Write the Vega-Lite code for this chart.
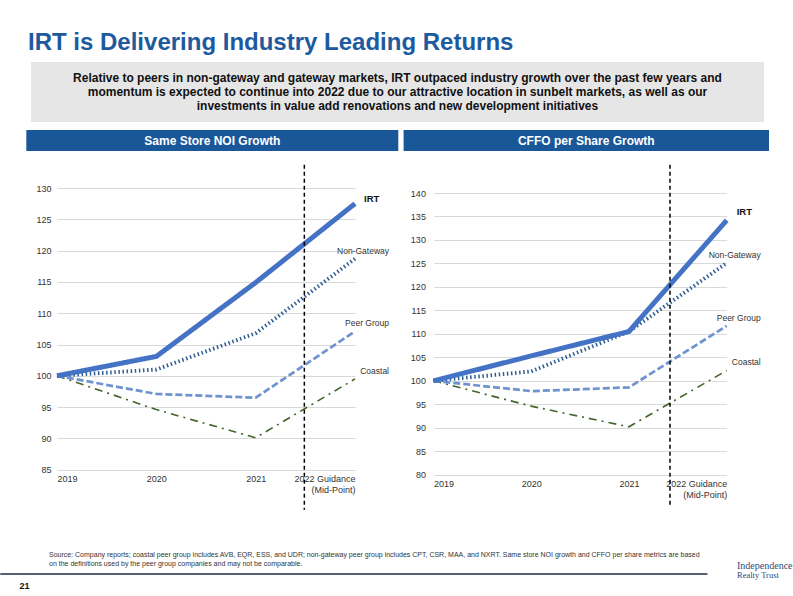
{
  "$schema": "https://vega.github.io/schema/vega-lite/v6.json",
  "padding": {"left": 0, "top": 31, "right": 0, "bottom": 0},
  "background": "white",
  "config": {
    "font": "Liberation Sans",
    "view": {"stroke": null},
    "axis": {"labelFont": "Liberation Sans", "labelFontSize": 9, "labelColor": "#333333", "domain": false, "ticks": false, "title": null, "labelOverlap": false, "labelBound": false},
    "title": {"font": "Liberation Sans"}
  },
  "title": {"text": "IRT is Delivering Industry Leading Returns", "anchor": "start", "frame": "group", "dx": 27, "fontSize": 24, "fontWeight": "bold", "color": "#1D5A9E", "baseline": "alphabetic", "offset": -12},
  "datasets": {
    "noi": [
      {"series": "Coastal", "year": 2019, "value": 100},
      {"series": "Coastal", "year": 2020, "value": 94.6},
      {"series": "Coastal", "year": 2021, "value": 90.1},
      {"series": "Coastal", "year": 2022, "value": 99.5},
      {"series": "Peer Group", "year": 2019, "value": 100},
      {"series": "Peer Group", "year": 2020, "value": 97.1},
      {"series": "Peer Group", "year": 2021, "value": 96.5},
      {"series": "Peer Group", "year": 2022, "value": 107.1},
      {"series": "Non-Gateway", "year": 2019, "value": 100},
      {"series": "Non-Gateway", "year": 2020, "value": 101.0},
      {"series": "Non-Gateway", "year": 2021, "value": 106.8},
      {"series": "Non-Gateway", "year": 2022, "value": 118.7},
      {"series": "IRT", "year": 2019, "value": 100},
      {"series": "IRT", "year": 2020, "value": 103.1},
      {"series": "IRT", "year": 2021, "value": 114.9},
      {"series": "IRT", "year": 2022, "value": 127.5}
    ],
    "cffo": [
      {"series": "Coastal", "year": 2019, "value": 100},
      {"series": "Coastal", "year": 2020, "value": 94.6},
      {"series": "Coastal", "year": 2021, "value": 90.2},
      {"series": "Coastal", "year": 2022, "value": 102.2},
      {"series": "Peer Group", "year": 2019, "value": 100},
      {"series": "Peer Group", "year": 2020, "value": 97.8},
      {"series": "Peer Group", "year": 2021, "value": 98.6},
      {"series": "Peer Group", "year": 2022, "value": 111.7},
      {"series": "Non-Gateway", "year": 2019, "value": 100},
      {"series": "Non-Gateway", "year": 2020, "value": 102.0},
      {"series": "Non-Gateway", "year": 2021, "value": 110.5},
      {"series": "Non-Gateway", "year": 2022, "value": 125.1},
      {"series": "IRT", "year": 2019, "value": 100},
      {"series": "IRT", "year": 2020, "value": 105.3},
      {"series": "IRT", "year": 2021, "value": 110.5},
      {"series": "IRT", "year": 2022, "value": 134.2}
    ],
    "summary": [
      {"t": "Relative to peers in non-gateway and gateway markets, IRT outpaced industry growth over the past few years and\nmomentum is expected to continue into 2022 due to our attractive location in sunbelt markets, as well as our\ninvestments in value add renovations and new development initiatives"}
    ],
    "headers": [
      {"panel": "left", "t": "Same Store NOI Growth"},
      {"panel": "right", "t": "CFFO per Share Growth"}
    ]
  },
  "bounds": "flush",
  "spacing": 0,
  "vconcat": [
    {
      "bounds": "flush", "spacing": 0,
      "hconcat": [
        {"width": 30, "height": 1, "data": {"values": []}, "mark": "text", "encoding": {}},
        {
          "width": 733, "height": 60,
          "view": {"fill": "#E6E6E6", "stroke": null},
          "data": {"name": "summary"},
          "mark": {"type": "text", "lineBreak": "\n", "lineHeight": 14.2, "fontSize": 12, "fontWeight": "bold", "color": "#111111", "align": "center", "baseline": "middle", "dy": -14.2},
          "encoding": {"text": {"field": "t"}}
        }
      ]
    },
    {"width": 1, "height": 67.4, "data": {"values": []}, "mark": "text", "encoding": {}},
    {
      "bounds": "flush", "spacing": 5.3,
      "hconcat": [
        {"width": 19.7, "height": 1, "data": {"values": []}, "mark": "text", "encoding": {}},
        {
          "width": 372, "height": 21,
          "view": {"fill": "#1A5799", "stroke": null},
          "data": {"name": "headers"},
          "transform": [{"filter": "datum.panel == 'left'"}],
          "mark": {"type": "text", "fontSize": 12, "fontWeight": "bold", "color": "white", "align": "center", "baseline": "middle"},
          "encoding": {"text": {"field": "t"}}
        },
        {
          "width": 365.4, "height": 21,
          "view": {"fill": "#1A5799", "stroke": null},
          "data": {"name": "headers"},
          "transform": [{"filter": "datum.panel == 'right'"}],
          "mark": {"type": "text", "fontSize": 12, "fontWeight": "bold", "color": "white", "align": "center", "baseline": "middle"},
          "encoding": {"text": {"field": "t"}}
        }
      ]
    },
    {"width": 1, "height": 57.6, "data": {"values": []}, "mark": "text", "encoding": {}},
    {
      "bounds": "flush", "spacing": 0,
      "hconcat": [
        {"width": 55.3, "height": 1, "data": {"values": []}, "mark": "text", "encoding": {}},
        {
          "bounds": "flush", "spacing": 78.4,
          "hconcat": [
            {
              "width": 298, "height": 281.7,
              "data": {"name": "noi"},
              "layer": [
                {
                  "mark": {"type": "line"},
                  "encoding": {
                    "x": {"field": "year", "type": "quantitative", "scale": {"domain": [2019, 2022], "nice": false, "zero": false},
                          "axis": {"values": [2019, 2020, 2021, 2022], "tickCount": 4, "grid": false, "format": "d", "labelPadding": 5, "labelLineHeight": 11, "labelExpr": "datum.value == 2022 ? ['2022 Guidance', '(Mid-Point)'] : datum.label"}},
                    "y": {"field": "value", "type": "quantitative", "scale": {"domain": [85, 130], "nice": false, "zero": false},
                          "axis": {"values": [85, 90, 95, 100, 105, 110, 115, 120, 125, 130], "tickCount": 10, "grid": true, "gridColor": "#D9D9D9", "gridWidth": 1, "labelPadding": 6}},
                    "color": {"field": "series", "type": "nominal", "legend": null, "scale": {"domain": ["IRT", "Non-Gateway", "Peer Group", "Coastal"], "range": ["#4472C4", "#2E5E91", "#6F92D0", "#44652A"]}},
                    "strokeDash": {"field": "series", "type": "nominal", "legend": null, "scale": {"domain": ["IRT", "Non-Gateway", "Peer Group", "Coastal"], "range": [[1, 0], [1.5, 2.6], [7, 3], [8, 5, 2, 5]]}},
                    "strokeWidth": {"field": "series", "type": "nominal", "legend": null, "scale": {"domain": ["IRT", "Non-Gateway", "Peer Group", "Coastal"], "range": [5, 1.6, 2.5, 2.8]}}
                  }
                },
                {
                  "data": {"values": [{}]},
                  "mark": {"type": "rule", "color": "#000000", "strokeWidth": 1.5, "strokeDash": [4, 3]},
                  "encoding": {"x": {"datum": 2021.49}, "y": {"datum": 133.7}, "y2": {"datum": 78.6}}
                },
                {
                  "transform": [{"filter": "datum.year == 2022 && datum.series == 'IRT'"}],
                  "mark": {"type": "text", "align": "left", "baseline": "middle", "dx": 9, "dy": -5, "fontSize": 9.5, "fontWeight": "bold", "color": "#111111"},
                  "encoding": {"x": {"field": "year", "type": "quantitative"}, "y": {"field": "value", "type": "quantitative"}, "text": {"field": "series"}}
                },
                {
                  "transform": [{"filter": "datum.year == 2022 && datum.series != 'IRT'"}],
                  "mark": {"type": "text", "align": "right", "baseline": "middle", "dx": 34, "dy": -8, "fontSize": 8.5, "color": "#333333"},
                  "encoding": {"x": {"field": "year", "type": "quantitative"}, "y": {"field": "value", "type": "quantitative"}, "text": {"field": "series"}}
                }
              ]
            },
            {
              "bounds": "flush", "spacing": 0,
              "vconcat": [
                {"width": 1, "height": 4.4, "data": {"values": []}, "mark": "text", "encoding": {}},
                {
                  "width": 293.3, "height": 281.7,
                  "data": {"name": "cffo"},
                  "layer": [
                    {
                      "mark": {"type": "line"},
                      "encoding": {
                        "x": {"field": "year", "type": "quantitative", "scale": {"domain": [2019, 2022], "nice": false, "zero": false},
                              "axis": {"values": [2019, 2020, 2021, 2022], "tickCount": 4, "grid": false, "format": "d", "labelPadding": 5, "labelLineHeight": 11, "labelExpr": "datum.value == 2022 ? ['2022 Guidance', '(Mid-Point)'] : datum.label"}},
                        "y": {"field": "value", "type": "quantitative", "scale": {"domain": [80, 140], "nice": false, "zero": false},
                              "axis": {"values": [80, 85, 90, 95, 100, 105, 110, 115, 120, 125, 130, 135, 140], "tickCount": 13, "grid": true, "gridColor": "#D9D9D9", "gridWidth": 1, "labelPadding": 8}},
                        "color": {"field": "series", "type": "nominal", "legend": null, "scale": {"domain": ["IRT", "Non-Gateway", "Peer Group", "Coastal"], "range": ["#4472C4", "#2E5E91", "#6F92D0", "#44652A"]}},
                        "strokeDash": {"field": "series", "type": "nominal", "legend": null, "scale": {"domain": ["IRT", "Non-Gateway", "Peer Group", "Coastal"], "range": [[1, 0], [1.5, 2.6], [7, 3], [8, 5, 2, 5]]}},
                        "strokeWidth": {"field": "series", "type": "nominal", "legend": null, "scale": {"domain": ["IRT", "Non-Gateway", "Peer Group", "Coastal"], "range": [5, 1.6, 2.5, 2.8]}}
                      }
                    },
                    {
                      "data": {"values": [{}]},
                      "mark": {"type": "rule", "color": "#000000", "strokeWidth": 1.5, "strokeDash": [4, 3]},
                      "encoding": {"x": {"datum": 2021.42}, "y": {"datum": 146}, "y2": {"datum": 73.5}}
                    },
                    {
                      "transform": [{"filter": "datum.year == 2022 && datum.series == 'IRT'"}],
                      "mark": {"type": "text", "align": "left", "baseline": "middle", "dx": 10, "dy": -8, "fontSize": 9.5, "fontWeight": "bold", "color": "#111111"},
                      "encoding": {"x": {"field": "year", "type": "quantitative"}, "y": {"field": "value", "type": "quantitative"}, "text": {"field": "series"}}
                    },
                    {
                      "transform": [{"filter": "datum.year == 2022 && datum.series != 'IRT'"}],
                      "mark": {"type": "text", "align": "right", "baseline": "middle", "dx": 34, "dy": -8, "fontSize": 8.5, "color": "#333333"},
                      "encoding": {"x": {"field": "year", "type": "quantitative"}, "y": {"field": "value", "type": "quantitative"}, "text": {"field": "series"}}
                    }
                  ]
                }
              ]
            }
          ]
        }
      ]
    },
    {"width": 1, "height": 385.7, "data": {"values": []}, "mark": "text", "encoding": {}},
    {
      "bounds": "flush", "spacing": 30,
      "hconcat": [
        {
          "width": 705.7, "height": 0.01,
          "view": {"stroke": "#1F2A44", "strokeWidth": 1.5},
          "title": {"text": ["Source: Company reports; coastal peer group includes AVB, EQR, ESS, and UDR; non-gateway peer group includes CPT, CSR, MAA,  and NXRT. Same store NOI growth and CFFO per share metrics are based", "on the definitions used by the peer group companies and may not be comparable."], "anchor": "start", "dx": 48, "fontSize": 7, "fontWeight": "normal", "color": "#333333", "lineHeight": 9.5, "offset": 7},
          "data": {"values": []}, "mark": "text", "encoding": {}
        },
        {
          "width": 55, "height": 0.01,
          "title": {"text": "Independence", "subtitle": "Realty Trust", "anchor": "start", "font": "Liberation Serif", "subtitleFont": "Liberation Serif", "fontSize": 10, "subtitleFontSize": 8.5, "fontWeight": "normal", "color": "#2D4A7C", "subtitleColor": "#2D4A7C", "subtitlePadding": 0, "offset": -5},
          "data": {"values": []}, "mark": "text", "encoding": {}
        }
      ]
    },
    {
      "width": 47, "height": 0.01,
      "title": {"text": "21", "orient": "bottom", "anchor": "middle", "fontSize": 9, "fontWeight": "bold", "color": "#111111", "offset": 8},
      "data": {"values": []}, "mark": "text", "encoding": {}
    }
  ]
}
